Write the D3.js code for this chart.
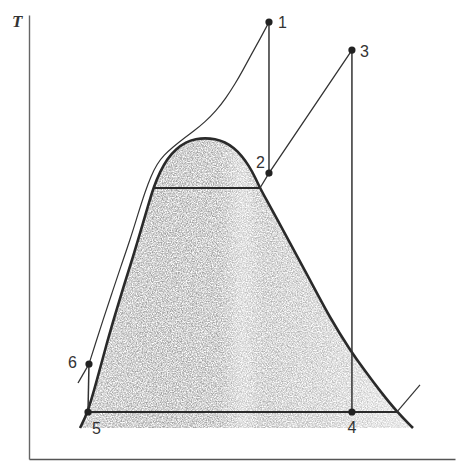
<!DOCTYPE html>
<html>
<head>
<meta charset="utf-8">
<script src="https://cdn.jsdelivr.net/npm/d3@7"></script>
<style>
  html, body { margin: 0; padding: 0; background: #fff; }
  svg { display: block; }
</style>
</head>
<body>
<svg id="chart" width="459" height="476"></svg>
<script>
// Reheat Rankine cycle on a T–s diagram (entropy s, temperature T; schematic units 0–100)

// Saturation dome: [s, T]
const domeS = [11.86, 13.72, 15.81, 17.91, 20.00, 22.09, 24.19, 26.05, 27.67, 29.07, 30.47, 32.09, 34.19, 36.51, 38.84, 40.93,
               43.26, 45.58, 47.67, 49.53, 51.16, 52.56, 53.72, 55.12, 57.44, 60.70, 65.35, 70.00, 74.65, 78.14, 81.63, 85.58, 89.30];
const domeT = [6.98, 10.59, 17.79, 25.45, 32.43, 39.19, 45.50, 51.58, 57.00, 61.49, 64.64, 67.57, 69.82, 71.40, 72.07, 72.30,
               72.07, 71.40, 70.05, 68.24, 66.00, 63.51, 61.04, 58.56, 54.50, 48.65, 40.32, 31.76, 24.55, 19.82, 15.32, 10.59, 6.98];

// Boiler pressure isobar from 6 up to 1
const boilerS = [13.95, 15.35, 17.21, 19.30, 21.40, 23.49, 25.35, 26.98, 28.37, 29.77, 31.40, 33.49, 35.81, 38.37, 40.93,
                 43.49, 45.81, 47.91, 49.77, 51.63, 53.72, 55.81];
const boilerT = [21.40, 25.68, 31.31, 37.39, 43.47, 49.32, 55.18, 60.14, 63.74, 66.44, 68.47, 70.27, 72.07, 73.87, 75.90,
                 78.38, 81.31, 84.46, 87.61, 90.99, 94.59, 98.42];
// Same isobar continued into the compressed-liquid region below 6
const liquidS = [13.95, 11.40];
const liquidT = [21.40, 17.12];

// Cycle state points
const stateLabels = ["1", "2", "3", "4", "5", "6"];
const stateS = [55.81, 55.81, 75.10, 75.10, 13.72, 13.95];
const stateT = [98.42, 64.40, 92.10, 10.59, 10.59, 21.40];

// Reheat isobar: 3 -> 2 -> saturated vapour, then across the dome to saturated liquid
const reheatS = [75.10, 55.81, 53.72, 28.90];
const reheatT = [92.10, 64.40, 61.04, 61.04];

// Condenser isobar: 5 -> saturated vapour, then a short superheated stub
const condS = [13.72, 85.58, 90.93];
const condT = [10.59, 10.59, 16.67];

const svg = d3.select("#chart");
const x = d3.scaleLinear().domain([0, 100]).range([29, 459]);
const y = d3.scaleLinear().domain([0, 100]).range([459, 15]);

const pts = (S, T) => S.map((s, i) => [s, T[i]]);
const smooth = d3.line().x(d => x(d[0])).y(d => y(d[1])).curve(d3.curveBasis);
const straight = d3.line().x(d => x(d[0])).y(d => y(d[1]));

// Grainy fill for the wet region
const defs = svg.append("defs");
const grad = defs.append("linearGradient")
  .attr("id", "shade").attr("gradientUnits", "userSpaceOnUse")
  .attr("x1", x(11)).attr("x2", x(90)).attr("y1", 0).attr("y2", 0);
[[0, "#acacac"], [0.22, "#9e9e9e"], [0.42, "#a0a0a0"], [0.49, "#c4c4c4"], [0.55, "#adadad"],
 [0.72, "#b8b8b8"], [0.86, "#c8c8c8"], [1, "#d4d4d4"]]
  .forEach(([o, c]) => grad.append("stop").attr("offset", o).attr("stop-color", c));

const f = defs.append("filter").attr("id", "grain")
  .attr("x", 0).attr("y", 0).attr("width", 1).attr("height", 1);
f.append("feTurbulence").attr("type", "fractalNoise").attr("baseFrequency", 0.8)
  .attr("numOctaves", 2).attr("seed", 7).attr("result", "noise");
f.append("feColorMatrix").attr("in", "noise").attr("type", "matrix")
  .attr("values", "0 0 0 0 0  0 0 0 0 0  0 0 0 0 0  2.0 0 0 0 -0.52").attr("result", "mask");
f.append("feComposite").attr("in", "SourceGraphic").attr("in2", "mask").attr("operator", "in");

const dome = pts(domeS, domeT);
svg.append("path")
  .attr("d", smooth(dome) + "Z")
  .attr("fill", "url(#shade)")
  .attr("filter", "url(#grain)");

// Axes (no ticks)
svg.append("g").attr("transform", `translate(0,${y(0)})`)
  .call(d3.axisBottom(x.copy().domain([0, 99]).range([29, 455])).tickValues([]).tickSizeOuter(0))
  .select(".domain").attr("stroke", "#555").attr("stroke-width", 1.6);
svg.append("g").attr("transform", `translate(${x(0)},0)`)
  .call(d3.axisLeft(y).tickValues([]).tickSizeOuter(0))
  .select(".domain").attr("stroke", "#666").attr("stroke-width", 1.4);

svg.append("text").attr("x", 12).attr("y", 27)
  .attr("font-family", "Liberation Serif, serif").attr("font-style", "italic")
  .attr("font-weight", "bold").attr("font-size", 17).attr("fill", "#333").text("T");

// Boiler isobar (thin)
svg.append("path").attr("d", smooth(pts(boilerS, boilerT)))
  .attr("fill", "none").attr("stroke", "#333").attr("stroke-width", 1.2);
svg.append("path").attr("d", straight(pts(liquidS, liquidT)))
  .attr("fill", "none").attr("stroke", "#333").attr("stroke-width", 1.4);

// Saturation dome outline
svg.append("path").attr("d", smooth(dome))
  .attr("fill", "none").attr("stroke", "#2a2a2a").attr("stroke-width", 2.6);

// Reheat isobar
const rh = pts(reheatS, reheatT);
svg.append("path").attr("d", straight(rh.slice(0, 3)))
  .attr("fill", "none").attr("stroke", "#333").attr("stroke-width", 1.3);
svg.append("path").attr("d", straight(rh.slice(2)))
  .attr("fill", "none").attr("stroke", "#2a2a2a").attr("stroke-width", 2);

// Condenser isobar
const cd = pts(condS, condT);
svg.append("path").attr("d", straight(cd.slice(0, 2)))
  .attr("fill", "none").attr("stroke", "#2a2a2a").attr("stroke-width", 2);
svg.append("path").attr("d", straight(cd.slice(1)))
  .attr("fill", "none").attr("stroke", "#333").attr("stroke-width", 1.2);

// Turbine expansions (1-2, 3-4) and pump (5-6)
const st = stateLabels.map((l, i) => ({ label: l, s: stateS[i], T: stateT[i] }));
[[0, 1], [2, 3], [4, 5]].forEach(([a, b]) => {
  svg.append("line")
    .attr("x1", x(st[a].s)).attr("y1", y(st[a].T))
    .attr("x2", x(st[b].s)).attr("y2", y(st[b].T))
    .attr("stroke", "#333").attr("stroke-width", 1.5);
});

svg.selectAll("circle.state").data(st).join("circle")
  .attr("class", "state")
  .attr("cx", d => x(d.s)).attr("cy", d => y(d.T)).attr("r", 3.6).attr("fill", "#222");

// State labels
const off = { "1": [9, 6, "start"], "2": [-13, -5, "start"], "3": [8, 7, "start"],
              "4": [0, 21, "middle"], "5": [4, 22, "start"], "6": [-21, 4, "start"] };
svg.selectAll("text.state").data(st).join("text")
  .attr("class", "state")
  .attr("x", d => x(d.s) + off[d.label][0]).attr("y", d => y(d.T) + off[d.label][1])
  .attr("text-anchor", d => off[d.label][2])
  .attr("font-family", "Liberation Sans, Arial, sans-serif").attr("font-size", 16)
  .attr("fill", "#333").text(d => d.label);
</script>
</body>
</html>
